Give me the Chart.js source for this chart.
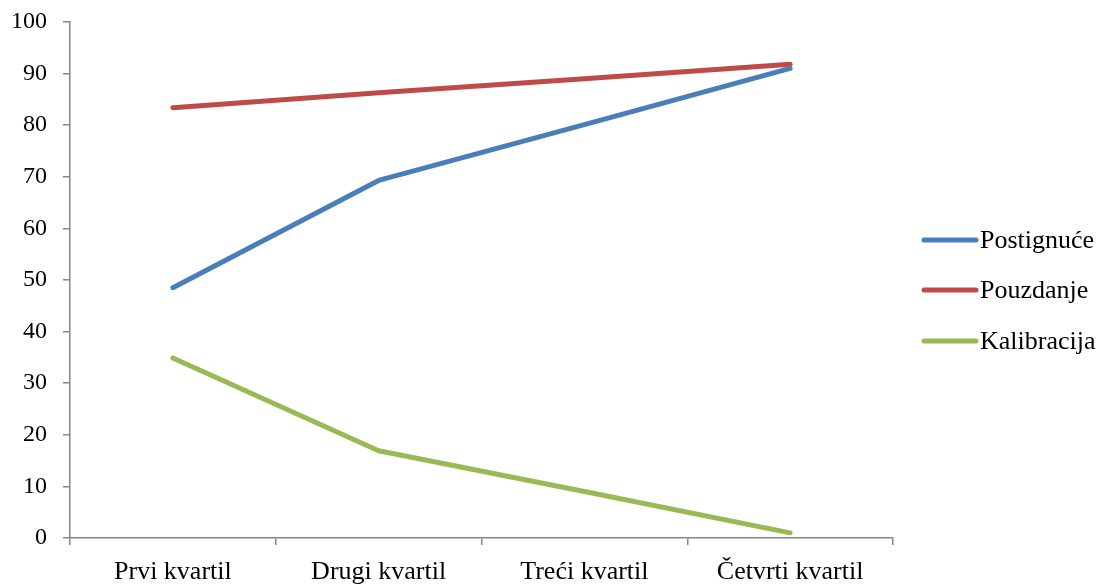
<!DOCTYPE html>
<html lang="en">
<head>
    <meta charset="UTF-8">
    <title>Kvartili</title>
    <script src="https://cdn.jsdelivr.net/npm/chart.js@4.4.1/dist/chart.umd.min.js"></script>
    <style>
        html, body { margin: 0; padding: 0; background: #ffffff; }
        #wrap { width: 1110px; height: 586px; position: relative; }
    </style>
</head>
<body>
    <div id="wrap">
        <canvas id="chart" width="1110" height="586"></canvas>
    </div>

    <script>
        const categories = ['Prvi kvartil', 'Drugi kvartil', 'Treći kvartil', 'Četvrti kvartil'];
        const postignuce = [48.5, 69.3, 80.1, 91.0];
        const pouzdanje = [83.4, 86.3, 89.0, 91.8];
        const kalibracija = [34.9, 16.9, 9.0, 1.0];
        const yTicks = [0, 10, 20, 30, 40, 50, 60, 70, 80, 90, 100];

        const axisGray = '#868686';
        const fontFamily = "'Liberation Serif', 'DejaVu Serif', serif";

        // legend drawn by hand on the right side
        const sideLegend = {
            id: 'sideLegend',
            afterDraw(chart) {
                const ctx = chart.ctx;
                const rows = [240, 290, 341];
                ctx.save();
                chart.data.datasets.forEach(function (ds, i) {
                    ctx.strokeStyle = ds.borderColor;
                    ctx.lineWidth = 5;
                    ctx.lineCap = 'round';
                    ctx.beginPath();
                    ctx.moveTo(924, rows[i]);
                    ctx.lineTo(976, rows[i]);
                    ctx.stroke();
                    ctx.fillStyle = '#000000';
                    ctx.font = '26px ' + fontFamily;
                    ctx.textBaseline = 'middle';
                    ctx.fillText(ds.label, 980, rows[i] + 1);
                });
                ctx.restore();
            }
        };

        new Chart(document.getElementById('chart'), {
            type: 'line',
            data: {
                labels: categories,
                datasets: [
                    { label: 'Postignuće', data: postignuce, borderColor: '#4A7EBB' },
                    { label: 'Pouzdanje', data: pouzdanje, borderColor: '#BE4B48' },
                    { label: 'Kalibracija', data: kalibracija, borderColor: '#98B954' }
                ]
            },
            options: {
                responsive: false,
                animation: false,
                layout: { padding: { top: 22, right: 217, left: 0, bottom: 0 } },
                elements: {
                    line: { borderWidth: 5, tension: 0, borderCapStyle: 'round', borderJoinStyle: 'round' },
                    point: { radius: 0 }
                },
                plugins: {
                    legend: { display: false },
                    tooltip: { enabled: false }
                },
                scales: {
                    x: {
                        offset: true,
                        grid: { offset: true, drawOnChartArea: false, drawTicks: true, tickLength: 7, color: axisGray, lineWidth: 1.5 },
                        border: { color: axisGray, width: 1.5 },
                        ticks: { color: '#000000', font: { family: fontFamily, size: 26 }, padding: 12, maxRotation: 0 },
                        afterFit(scale) {
                            scale.height = 48;
                            scale.paddingLeft = 0;
                            scale.paddingRight = 0;
                        }
                    },
                    y: {
                        min: 0,
                        max: 100,
                        afterBuildTicks(scale) { scale.ticks = yTicks.map(function (v) { return { value: v }; }); },
                        grid: { drawOnChartArea: false, drawTicks: true, tickLength: 7, color: axisGray, lineWidth: 1.5 },
                        border: { color: axisGray, width: 1.5 },
                        ticks: { color: '#000000', font: { family: fontFamily, size: 24 }, padding: 16 },
                        afterFit(scale) {
                            scale.width = 70;
                            scale.paddingTop = 0;
                            scale.paddingBottom = 0;
                        }
                    }
                }
            },
            plugins: [sideLegend]
        });
    </script>
</body>
</html>
